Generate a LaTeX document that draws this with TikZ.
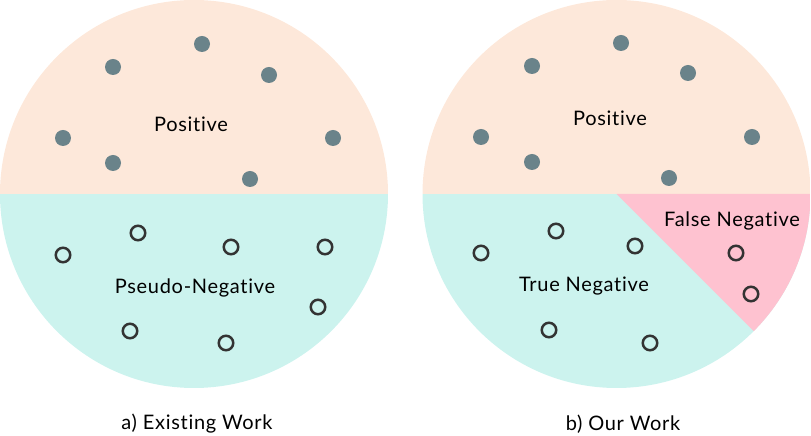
\documentclass[tikz,border=0pt]{standalone}
\usepackage{fontspec}
\setmainfont{Lato}[Ligatures={NoCommon},LetterSpace=3.5]
\definecolor{peach}{HTML}{FDE8DA}
\definecolor{aqua}{HTML}{CCF3EE}
\definecolor{rose}{HTML}{FEC2D0}
\definecolor{dotc}{HTML}{6A838A}
\definecolor{ringc}{HTML}{333333}
\tikzset{
  posdot/.style={circle,fill=dotc,minimum size=16pt,inner sep=0pt},
  negring/.style={circle,draw=ringc,line width=2.5pt,minimum size=14.5pt,inner sep=0pt},
  lbl/.style={inner sep=0pt,font=\fontsize{20}{24}\selectfont,text=black}
}
\begin{document}
\begin{tikzpicture}[x=1pt,y=1pt]
\useasboundingbox (0,0) rectangle (811,436);
% left circle
\begin{scope}
\clip (194,242) circle (194);
\fill[peach] (0,242) rectangle (388,436);
\fill[aqua] (0,0) rectangle (388,242);
\end{scope}
% right circle
\begin{scope}
\clip (616.5,242) circle (194);
\fill[peach] (422,242) rectangle (811,436);
\fill[aqua] (422,0) rectangle (811,242);
\fill[rose] (616.5,242) -- (900,242) -- (900,-41.5) -- cycle;
\end{scope}
% left dots
\node[posdot] (lp1) at (202,392) {};
\node[posdot] (lp2) at (113,369) {};
\node[posdot] (lp3) at (269,361) {};
\node[posdot] (lp4) at (63,298) {};
\node[posdot] (lp5) at (333,298) {};
\node[posdot] (lp6) at (113,273) {};
\node[posdot] (lp7) at (250,257) {};
\node[negring] (ln1) at (63,181) {};
\node[negring] (ln2) at (138,203) {};
\node[negring] (ln3) at (231,189) {};
\node[negring] (ln4) at (325,189) {};
\node[negring] (ln5) at (318,129) {};
\node[negring] (ln6) at (130,105) {};
\node[negring] (ln7) at (226,93) {};
\node[lbl] (lpos) at (191,312) {Positive};
\node[lbl] (lneg) at (195,148) {Pseudo-Negative};
\node[lbl] (lcap) at (197,12) {a) Existing Work};
% right dots
\node[posdot] (rp1) at (621,393) {};
\node[posdot] (rp2) at (532,370) {};
\node[posdot] (rp3) at (688,363) {};
\node[posdot] (rp4) at (481,299) {};
\node[posdot] (rp5) at (752,299) {};
\node[posdot] (rp6) at (532,274) {};
\node[posdot] (rp7) at (669,258) {};
\node[negring] (rn1) at (481,183) {};
\node[negring] (rn2) at (556,205) {};
\node[negring] (rn3) at (635,190) {};
\node[negring] (rn4) at (736,183) {};
\node[negring] (rn5) at (751,142) {};
\node[negring] (rn6) at (549,106) {};
\node[negring] (rn7) at (650,93) {};
\node[lbl] (rpos) at (610,318) {Positive};
\node[lbl] (rfn) at (732,215) {False Negative};
\node[lbl] (rtn) at (584,150) {True Negative};
\node[lbl] (rcap) at (623,12) {b) Our Work};
\end{tikzpicture}
\end{document}
